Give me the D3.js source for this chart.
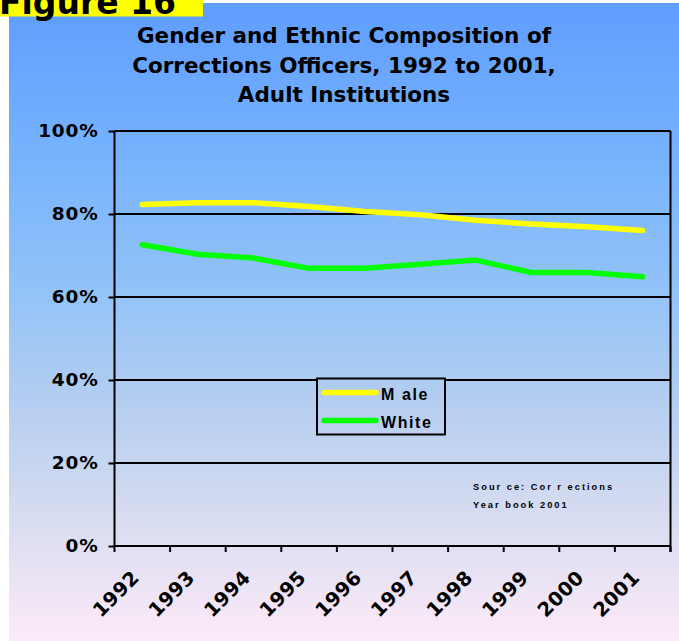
<!DOCTYPE html>
<html>
<head>
<meta charset="utf-8">
<script src="https://cdn.jsdelivr.net/npm/d3@7"></script>
<style>
  html, body { margin: 0; padding: 0; background: #ffffff; }
  svg { display: block; }
</style>
</head>
<body>
<svg id="chart" width="679" height="641"></svg>
<script>
// Share of corrections officers in adult institutions, by year
const years = ["1992", "1993", "1994", "1995", "1996", "1997", "1998", "1999", "2000", "2001"];
const malePct = [82.3, 82.7, 82.7, 81.8, 80.6, 79.8, 78.5, 77.6, 76.9, 76.0];
const whitePct = [72.6, 70.3, 69.4, 66.9, 66.9, 67.9, 68.9, 65.9, 65.9, 64.9];
const yTicks = [0, 20, 40, 60, 80, 100];
const seriesNames = ["M ale", "White"];
const seriesColors = ["#ffff00", "#00ff00"];

const svg = d3.select("#chart");
const W = 679, H = 641;
const plot = { left: 114.5, right: 670.5, top: 131, bottom: 546 };
const boldFont = "DejaVu Sans, Verdana, sans-serif";

// Page background gradient (user space so the legend box shares it)
const defs = svg.append("defs");
const grad = defs.append("linearGradient")
  .attr("id", "bg").attr("gradientUnits", "userSpaceOnUse")
  .attr("x1", 0).attr("y1", 3).attr("x2", 0).attr("y2", H);
[["0%", "#5f9dfe"], ["22%", "#74b1fd"], ["45%", "#92c3f8"], ["62%", "#b3cdf0"], ["80%", "#d6dcf0"], ["100%", "#fdeaf8"]]
  .forEach(([o, c]) => grad.append("stop").attr("offset", o).attr("stop-color", c));

svg.append("rect").attr("x", 9).attr("y", 3).attr("width", W - 9).attr("height", H - 3).attr("fill", "url(#bg)");

// Figure label
svg.append("rect").attr("x", 0).attr("y", 0).attr("width", 203).attr("height", 16.5).attr("fill", "#ffff00");
svg.append("text").attr("x", -1).attr("y", 14)
  .attr("font-family", boldFont).attr("font-weight", "bold")
  .attr("font-size", 33).attr("fill", "#000").text("Figure 16");

// Title
const titleLines = ["Gender and Ethnic Composition of", "Corrections Officers, 1992 to 2001,", "Adult Institutions"];
svg.append("g").selectAll("text").data(titleLines).join("text")
  .attr("x", 344).attr("y", (d, i) => 43 + i * 29.5)
  .attr("text-anchor", "middle")
  .attr("font-family", boldFont).attr("font-weight", "bold")
  .attr("font-size", 21.5).attr("fill", "#000")
  .text(d => d);

// Scales
const x = d3.scaleBand().domain(years).range([plot.left, plot.right]).padding(0);
const y = d3.scaleLinear().domain([0, 100]).range([plot.bottom, plot.top]);
const cx = d => x(d) + x.bandwidth() / 2;

// Horizontal gridlines
svg.append("g").selectAll("line").data(yTicks.filter(t => t > 0)).join("line")
  .attr("x1", plot.left).attr("x2", plot.right)
  .attr("y1", d => y(d)).attr("y2", d => y(d))
  .attr("stroke", "#000").attr("stroke-width", 2);

// Right frame edge
svg.append("line").attr("x1", plot.right).attr("x2", plot.right)
  .attr("y1", plot.top).attr("y2", plot.bottom + 6)
  .attr("stroke", "#000").attr("stroke-width", 2);

// Y axis
const yAxis = svg.append("g").attr("transform", `translate(${plot.left},0)`)
  .call(d3.axisLeft(y).tickValues(yTicks).tickSize(6).tickPadding(10).tickFormat(d => d + "%"));
yAxis.select(".domain").attr("stroke", "#000").attr("stroke-width", 2).attr("d", `M0,${plot.top}V${plot.bottom}`);
yAxis.selectAll(".tick line").attr("stroke", "#000").attr("stroke-width", 2);
yAxis.selectAll(".tick text")
  .attr("font-family", boldFont).attr("font-weight", "bold")
  .attr("font-size", 18.5).attr("letter-spacing", 0.8).attr("fill", "#000");

// X axis: ticks on the band edges, labels at band centres
const xEdges = years.map(d => x(d)).concat([plot.right]);
svg.append("line").attr("x1", plot.left).attr("x2", plot.right)
  .attr("y1", plot.bottom).attr("y2", plot.bottom).attr("stroke", "#000").attr("stroke-width", 2);
svg.append("g").selectAll("line").data(xEdges).join("line")
  .attr("x1", d => d).attr("x2", d => d)
  .attr("y1", plot.bottom).attr("y2", plot.bottom + 6)
  .attr("stroke", "#000").attr("stroke-width", 2);
svg.append("g").selectAll("text").data(years).join("text")
  .attr("transform", d => `translate(${cx(d) - 2},${plot.bottom + 33}) rotate(-45)`)
  .attr("text-anchor", "end")
  .attr("font-family", boldFont).attr("font-weight", "bold")
  .attr("font-size", 19.5).attr("letter-spacing", 0.3).attr("fill", "#000")
  .text(d => d);

// Series lines
const line = d3.line().x((d, i) => cx(years[i])).y(d => y(d));
[malePct, whitePct].forEach((vals, k) => {
  svg.append("path").datum(vals)
    .attr("d", line).attr("fill", "none")
    .attr("stroke", seriesColors[k]).attr("stroke-width", 5.5)
    .attr("stroke-linecap", "round").attr("stroke-linejoin", "round");
});

// Legend (box filled with the page gradient, so it masks the gridline)
const lgX = 317, lgY = 378.5;
svg.append("rect").attr("x", lgX).attr("y", lgY).attr("width", 128).attr("height", 56)
  .attr("fill", "url(#bg)").attr("stroke", "#000").attr("stroke-width", 2);
seriesNames.forEach((name, k) => {
  const yy = lgY + 14 + k * 28;
  svg.append("line").attr("x1", lgX + 7).attr("x2", lgX + 59).attr("y1", yy).attr("y2", yy)
    .attr("stroke", seriesColors[k]).attr("stroke-width", 5.5).attr("stroke-linecap", "round");
  svg.append("text").attr("x", lgX + 64).attr("y", yy + 7.5)
    .attr("font-family", "Liberation Sans, Arial, sans-serif").attr("font-weight", "bold")
    .attr("font-size", 16).attr("letter-spacing", 1.6).attr("fill", "#000")
    .text(name);
});

// Source note
const sourceLines = ["Sour ce: Cor r ections", "Year book 2001"];
svg.append("g").selectAll("text").data(sourceLines).join("text")
  .attr("x", 473).attr("y", (d, i) => 490 + i * 18)
  .attr("font-family", "Liberation Sans, Arial, sans-serif").attr("font-weight", "bold")
  .attr("font-size", 9.3).attr("letter-spacing", 2).attr("fill", "#000")
  .text(d => d);
</script>
</body>
</html>
